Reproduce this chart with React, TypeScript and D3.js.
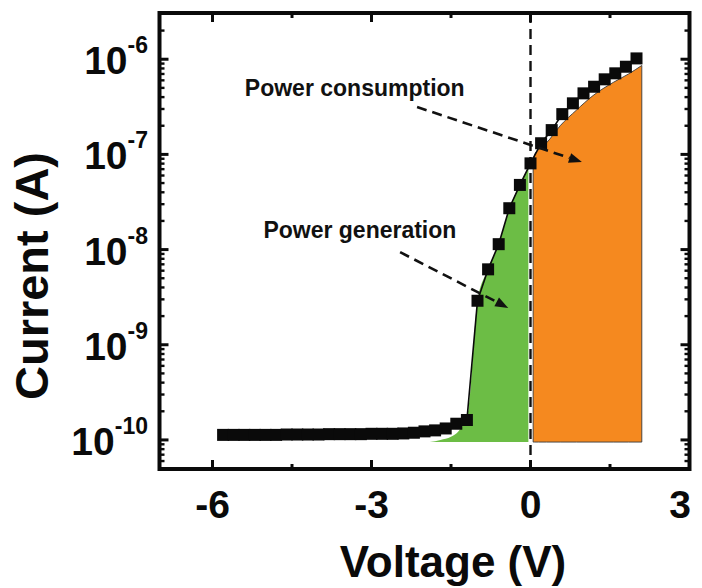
import * as d3 from "d3";

// measured I-V points (V, A)
const voltage = [
  -5.8, -5.6, -5.4, -5.2, -5.0, -4.8, -4.6, -4.4, -4.2, -4.0,
  -3.8, -3.6, -3.4, -3.2, -3.0, -2.8, -2.6, -2.4, -2.2, -2.0,
  -1.8, -1.6, -1.4, -1.2, -1.0, -0.8, -0.6, -0.4, -0.2, 0.0,
  0.2, 0.4, 0.6, 0.8, 1.0, 1.2, 1.4, 1.6, 1.8, 2.0,
];
const current = [
  1.13e-10, 1.13e-10, 1.13e-10, 1.13e-10, 1.13e-10, 1.13e-10, 1.14e-10, 1.14e-10, 1.14e-10, 1.14e-10,
  1.15e-10, 1.15e-10, 1.15e-10, 1.15e-10, 1.16e-10, 1.16e-10, 1.16e-10, 1.17e-10, 1.19e-10, 1.23e-10,
  1.26e-10, 1.32e-10, 1.48e-10, 1.62e-10, 2.9e-9, 6.2e-9, 1.14e-8, 2.72e-8, 4.78e-8, 8.05e-8,
  1.31e-7, 1.8e-7, 2.65e-7, 3.44e-7, 4.38e-7, 5.14e-7, 6.15e-7, 7.11e-7, 8.34e-7, 1.02e-6,
];

// shaded regions (upper edges)
const genV = [-1.9, -1.7, -1.5, -1.35, -1.17, -1.0, -0.8, -0.6, -0.4, -0.2, -0.04];
const genI = [9.5e-11, 1.0e-10, 1.08e-10, 1.25e-10, 2.07e-10, 2.9e-9, 6.2e-9, 1.14e-8, 2.72e-8, 4.78e-8, 7.4e-8];
const conV = [0.05, 0.08, 0.15, 0.3, 0.56, 0.87, 1.18, 1.56, 1.85, 2.1];
const conI = [7.8e-8, 1.0e-7, 1.12e-7, 1.32e-7, 2.0e-7, 2.93e-7, 4.15e-7, 5.7e-7, 7.0e-7, 8.6e-7];
const floorI = 9.5e-11;

// axes
const xTicks = [-6, -3, 0, 3];
const xMinor = [-4.5, -1.5, 1.5];
const yTicks = [1e-10, 1e-9, 1e-8, 1e-7, 1e-6];
const yExp = ["-10", "-9", "-8", "-7", "-6"];

// annotations: [label, textV, textI, arrow from V, I, arrow to V, I]
const noteLabels = ["Power consumption", "Power generation"];
const noteText = [[-5.39, 4.14e-7], [-5.04, 1.31e-8]];
const noteFrom = [[-2.14, 3.15e-7], [-2.46, 9.4e-9]];
const noteTo = [[0.97, 8.3e-8], [-0.42, 2.44e-9]];

const FONT = "'Liberation Sans', Arial, Helvetica, sans-serif";

export default function App() {
  const W = 702;
  const H = 588;
  const x = d3.scaleLinear().domain([-7, 3]).range([159.5, 689.5]);
  const y = d3.scaleLog().domain([4.95e-11, 3.06e-6]).range([469, 13]);
  const [x0, x1] = x.range();
  const [yb, yt] = y.range();

  const pts = voltage.map((v, i) => [v, current[i]]);
  const line = d3.line<number[]>().x((d) => x(d[0])).y((d) => y(d[1]));
  const area = d3
    .area<number[]>()
    .x((d) => x(d[0]))
    .y0(y(floorI))
    .y1((d) => y(d[1]))
    .curve(d3.curveMonotoneX);
  const genPath = area(genV.map((v, i) => [v, genI[i]]));
  // orange block has a straight left edge down to the floor
  const conPts = conV.map((v, i) => [v, conI[i]]);
  const conPath = area(conPts);

  const yMinor = y.ticks().filter((t) => !yTicks.some((m) => Math.abs(m - t) / m < 1e-6));

  const arrowLen = 13;
  const arrowHalf = 5;

  return (
    <svg width={W} height={H} style={{ position: "absolute", left: 0, top: 0, background: "#fff" }}>
      <path d={genPath ?? ""} fill="#6cbd45" />
      <path d={conPath ?? ""} fill="#f5891f" stroke="#3a3a3a" strokeWidth={0.9} />

      <line x1={x(0)} x2={x(0)} y1={yt} y2={yb} stroke="#111" strokeWidth={2.4} strokeDasharray="10,6" />

      <path d={line(pts) ?? ""} fill="none" stroke="#0a0a0a" strokeWidth={1.6} />
      {pts.map((d, i) => (
        <rect key={i} x={x(d[0]) - 6} y={y(d[1]) - 6} width={12} height={12} fill="#0a0a0a" />
      ))}

      {noteLabels.map((lab, i) => {
        const ax = x(noteFrom[i][0]);
        const ay = y(noteFrom[i][1]);
        const bx = x(noteTo[i][0]);
        const by = y(noteTo[i][1]);
        const a = Math.atan2(by - ay, bx - ax);
        const cx = bx - arrowLen * Math.cos(a);
        const cy = by - arrowLen * Math.sin(a);
        const head = [
          [bx, by],
          [cx + arrowHalf * Math.sin(a), cy - arrowHalf * Math.cos(a)],
          [cx - arrowHalf * Math.sin(a), cy + arrowHalf * Math.cos(a)],
        ];
        return (
          <g key={lab}>
            <text
              x={x(noteText[i][0])}
              y={y(noteText[i][1])}
              fontFamily={FONT}
              fontWeight="bold"
              fontSize={23}
              fill="#111"
            >
              {lab}
            </text>
            <line x1={ax} y1={ay} x2={cx} y2={cy} stroke="#111" strokeWidth={2.6} strokeDasharray="10,6" />
            <polygon points={head.map((p) => p.join(",")).join(" ")} fill="#111" />
          </g>
        );
      })}

      {/* ticks */}
      <g stroke="#0a0a0a" strokeWidth={3}>
        {xTicks.map((t) => (
          <g key={"xt" + t}>
            <line x1={x(t)} x2={x(t)} y1={yb} y2={yb - 9} />
            <line x1={x(t)} x2={x(t)} y1={yt} y2={yt + 9} />
          </g>
        ))}
        {xMinor.map((t) => (
          <g key={"xm" + t}>
            <line x1={x(t)} x2={x(t)} y1={yb} y2={yb - 5} />
            <line x1={x(t)} x2={x(t)} y1={yt} y2={yt + 5} />
          </g>
        ))}
        {yTicks.map((t) => (
          <g key={"yt" + t}>
            <line x1={x0} x2={x0 + 9} y1={y(t)} y2={y(t)} />
            <line x1={x1} x2={x1 - 9} y1={y(t)} y2={y(t)} />
          </g>
        ))}
        {yMinor.map((t) => (
          <g key={"ym" + t} strokeWidth={2.4}>
            <line x1={x0} x2={x0 + 5} y1={y(t)} y2={y(t)} />
            <line x1={x1} x2={x1 - 5} y1={y(t)} y2={y(t)} />
          </g>
        ))}
      </g>
      <rect x={x0} y={yt} width={x1 - x0} height={yb - yt} fill="none" stroke="#0a0a0a" strokeWidth={4} />

      {/* tick labels */}
      <g fontFamily={FONT} fontWeight="bold" fill="#0a0a0a">
        {xTicks.map((t) => (
          <text key={"xl" + t} x={Math.min(x(t), W - 22)} y={518} textAnchor="middle" fontSize={39}>
            {String(t)}
          </text>
        ))}
        {yTicks.map((t, i) => (
          <text key={"yl" + t} x={148} y={y(t) + 15} textAnchor="end" fontSize={39}>
            10
            <tspan dy={-21} fontSize={23}>
              {yExp[i]}
            </tspan>
          </text>
        ))}
        <text x={453} y={577} textAnchor="middle" fontSize={44}>
          Voltage (V)
        </text>
        <text transform={`translate(48,${(yt + yb) / 2 + 35}) rotate(-90)`} textAnchor="middle" fontSize={47}>
          Current (A)
        </text>
      </g>
    </svg>
  );
}
